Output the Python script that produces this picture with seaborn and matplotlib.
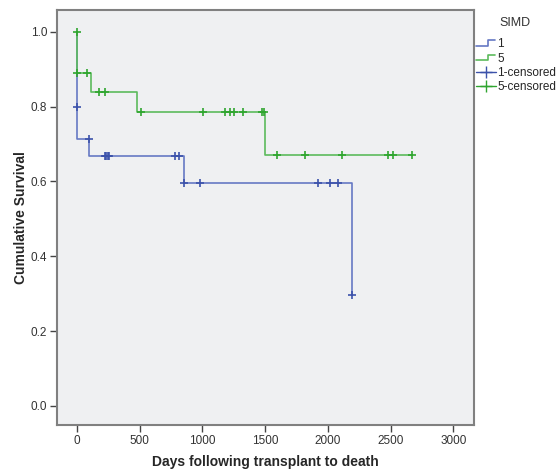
import pandas as pd
import seaborn as sns
import matplotlib.pyplot as plt
from matplotlib.lines import Line2D
from matplotlib.legend_handler import HandlerBase
plt.switch_backend('agg')

# Kaplan-Meier steps
simd1_days = [0, 0, 3, 95, 850, 2195]
simd1_surv = [1.0, 0.800, 0.714, 0.667, 0.595, 0.297]
simd5_days = [0, 0, 115, 475, 1500, 2673]
simd5_surv = [1.0, 0.889, 0.838, 0.786, 0.672, 0.672]

# censored cases
simd1_cens_days = [0, 93, 220, 232, 245, 255, 780, 810, 855, 980, 1920, 2020, 2080, 2195]
simd1_cens_surv = [0.800, 0.714, 0.667, 0.667, 0.667, 0.667, 0.667, 0.667,
                   0.595, 0.595, 0.595, 0.595, 0.595, 0.297]
simd5_cens_days = [0, 0, 82, 172, 226, 510, 1008, 1181, 1221, 1250, 1327, 1473, 1490,
                   1593, 1814, 2112, 2477, 2519, 2673]
simd5_cens_surv = [1.0, 0.889, 0.889, 0.838, 0.838, 0.786, 0.786, 0.786, 0.786, 0.786,
                   0.786, 0.786, 0.786, 0.672, 0.672, 0.672, 0.672, 0.672, 0.672]

x_ticks = [0, 500, 1000, 1500, 2000, 2500, 3000]
y_ticks = [0.0, 0.2, 0.4, 0.6, 0.8, 1.0]

line_col = {'1': '#6578c4', '5': '#5cbb5c'}
mark_col = {'1': '#3c52aa', '5': '#2fa52f'}


class StepHandler(HandlerBase):
    def create_artists(self, legend, orig_handle, xdescent, ydescent, width, height, fontsize, trans):
        x0 = -xdescent
        xs = [x0, x0 + 0.6 * width, x0 + 0.6 * width, x0 + 0.92 * width]
        ys = [-ydescent + 0.15 * height, -ydescent + 0.15 * height,
              -ydescent + 0.85 * height, -ydescent + 0.85 * height]
        ln = Line2D(xs, ys, color=orig_handle.get_color(), lw=1.2, transform=trans)
        return [ln]


sns.set_style('white')
plt.rcParams['font.family'] = ['Liberation Sans', 'DejaVu Sans']

steps = pd.concat([
    pd.DataFrame({'days': simd1_days, 'surv': simd1_surv, 'SIMD': '1'}),
    pd.DataFrame({'days': simd5_days, 'surv': simd5_surv, 'SIMD': '5'}),
])
cens = pd.concat([
    pd.DataFrame({'days': simd1_cens_days, 'surv': simd1_cens_surv, 'SIMD': '1'}),
    pd.DataFrame({'days': simd5_cens_days, 'surv': simd5_cens_surv, 'SIMD': '5'}),
])

fig = plt.figure(figsize=(5.58, 4.70), dpi=100)
ax = fig.add_axes([0.102, 0.096, 0.747, 0.883])
ax.set_facecolor('#eff0f2')

for g in ['1', '5']:
    sns.lineplot(data=steps[steps['SIMD'] == g], x='days', y='surv', color=line_col[g],
                 drawstyle='steps-post', estimator=None, sort=False, lw=1.2, ax=ax)
    sns.scatterplot(data=cens[cens['SIMD'] == g], x='days', y='surv', color=mark_col[g],
                    marker='+', s=30, linewidth=1.2, ax=ax, zorder=3)

ax.set_xlim(-160, 3163)
ax.set_ylim(-0.051, 1.059)
ax.set_xticks(x_ticks)
ax.set_yticks(y_ticks)
ax.set_yticklabels(['%.1f' % v for v in y_ticks])
ax.tick_params(axis='both', direction='out', length=5, width=1, color='#444444',
               labelsize=8.5, labelcolor='#333333', pad=2, left=True, bottom=True)
for sp in ax.spines.values():
    sp.set_color('#808080')
    sp.set_linewidth(1.5)

ax.set_xlabel('Days following transplant to death', fontsize=10, fontweight='bold', labelpad=6)
ax.set_ylabel('Cumulative Survival', fontsize=10, fontweight='bold', labelpad=2)

handles = [Line2D([], [], color=line_col['1']), Line2D([], [], color=line_col['5']),
           Line2D([], [], color=mark_col['1'], marker='+', markersize=8, lw=1),
           Line2D([], [], color=mark_col['5'], marker='+', markersize=8, lw=1)]
labels = ['1', '5', '1-censored', '5-censored']
ax.legend(handles, labels, loc='upper left', bbox_to_anchor=(1.0, 0.937),
          frameon=False, fontsize=8.5, borderaxespad=0, borderpad=0.2,
          handlelength=1.7, handletextpad=0.1, labelspacing=0.2,
          handler_map={handles[0]: StepHandler(), handles[1]: StepHandler()})
fig.text(515 / 558, 1 - 23 / 470, 'SIMD', ha='center', va='center', fontsize=9, color='#333333')

fig.savefig('out.png', dpi=100, facecolor='white')
